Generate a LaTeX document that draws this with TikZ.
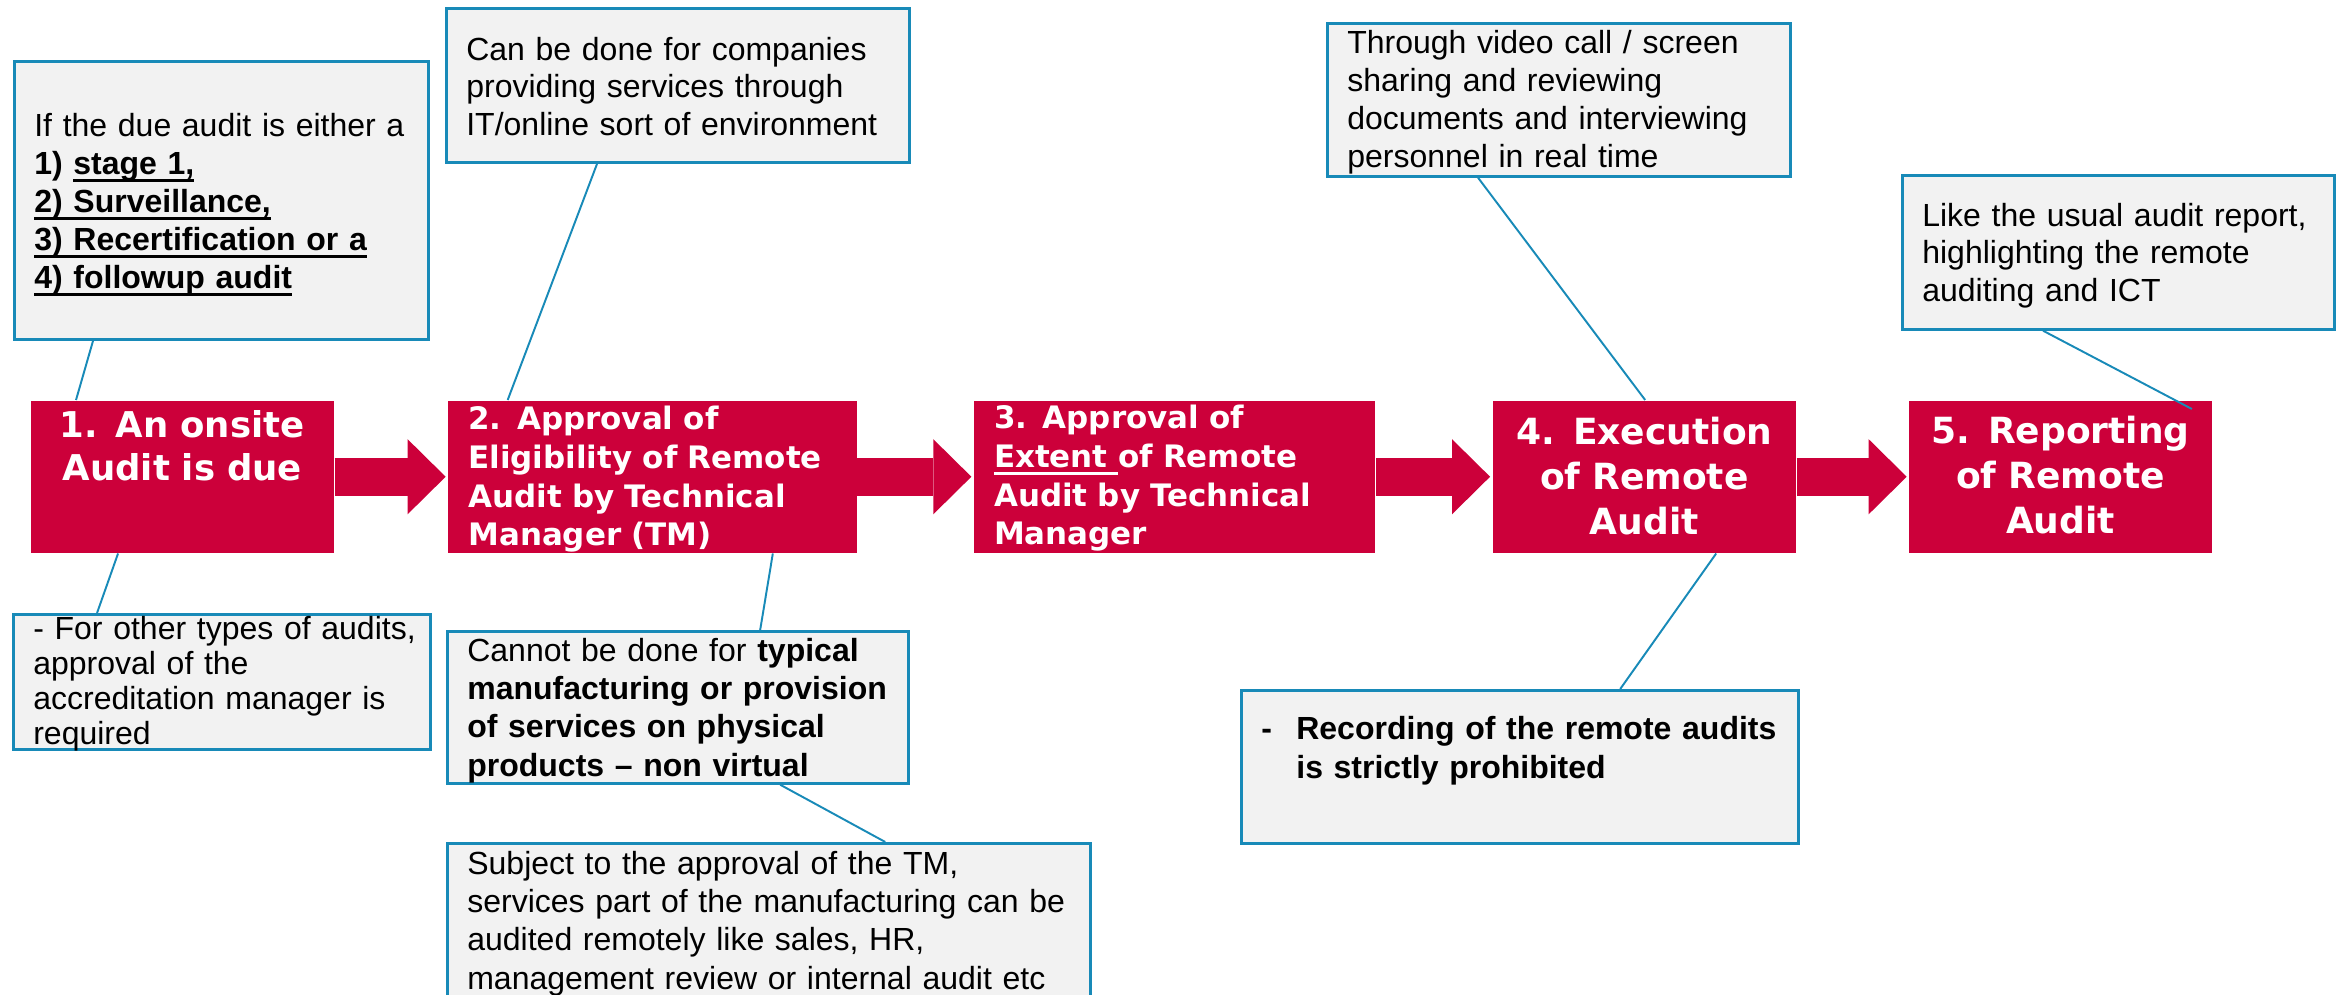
\documentclass[tikz,border=0pt]{standalone}
\usepackage{fontspec}
\setmainfont{Liberation Sans}
\newfontfamily\boxfont{DejaVu Sans}
\usetikzlibrary{positioning,arrows.meta}

\definecolor{stepred}{RGB}{204,0,58}
\definecolor{notegray}{RGB}{242,242,242}
\definecolor{noteblue}{RGB}{24,138,184}

\newcommand\notesize[1]{\fontsize{9.1pt}{#1}\selectfont}
\newcommand\stepfont[2]{\boxfont\bfseries\fontsize{#1}{#2}\selectfont}
\newsavebox\ulbox
\newcommand\uline[1]{\leavevmode\sbox\ulbox{#1}\rlap{\rule[-2.2pt]{\wd\ulbox}{0.8pt}}\usebox\ulbox}

\begin{document}
\begin{tikzpicture}[x=0.01cm, y=-0.01cm,
  stepbox/.style={fill=stepred, text=white, inner xsep=0.2cm, inner ysep=0pt, anchor=north west},
  note/.style={fill=notegray, draw=noteblue, line width=0.75pt, inner xsep=0.2cm, inner ysep=0pt, anchor=north west, align=left},
  link/.style={draw=noteblue, line width=0.55pt},
  flow/.style={draw=stepred, line width=0.38cm, -{Triangle[length=0.38cm, width=0.75cm, line width=0pt]}, shorten >=0.02cm}]
	\path[use as bounding box, fill=white] (0,0) rectangle (2341,995);
	
	% steps
	\node[stepbox, text width=2.63cm, align=center, text height=0.37cm, text depth=1.15cm, font=\stepfont{10.1pt}{12.2pt}] (s1) at (30,400) {1. An onsite\\Audit is due};
	\node[stepbox, right=1.13cm of s1, text width=3.68cm, align=left, text height=0.29cm, text depth=1.23cm, font=\stepfont{8.8pt}{11pt}] (s2) {2. Approval of\\Eligibility of Remote\\Audit by Technical\\Manager (TM)};
	\node[stepbox, right=1.16cm of s2, text width=3.61cm, align=left, text height=0.28cm, text depth=1.24cm, font=\stepfont{8.8pt}{11pt}] (s3) {3. Approval of\\\uline{Extent }of Remote\\Audit by Technical\\Manager};
	\node[stepbox, right=1.16cm of s3, text width=2.63cm, align=center, text height=0.44cm, text depth=1.08cm, font=\stepfont{10.25pt}{12.8pt}] (s4) {4. Execution\\of Remote\\Audit};
	\node[stepbox, right=1.12cm of s4, text width=2.62cm, align=center, text height=0.43cm, text depth=1.09cm, font=\stepfont{10.25pt}{12.8pt}] (s5) {5. Reporting\\of Remote\\Audit};
	
	\foreach \a/\b in {s1/s2, s2/s3, s3/s4, s4/s5}
		\draw[flow] (\a.east) -- (\b.west);
	
	% notes
	\node[note, text width=3.74cm, text height=0.75cm, text depth=2.03cm, font=\notesize{10.8pt}] (cA) at (13,60) {If the due audit is either a\\
		\textbf{1) \uline{stage 1,}}\\
		\textbf{\uline{2) Surveillance,}}\\
		\textbf{\uline{3) Recertification or a}}\\
		\textbf{\uline{4) followup audit}}};
	\node[note, text width=3.77cm, text height=0.25cm, text depth=1.10cm, font=\notesize{10pt}] (cB) at (12,613) {\mbox{- For other types of audits,}\\approval of the\\accreditation manager is\\required};
	\node[note, text width=4.23cm, text height=0.52cm, text depth=1.02cm, font=\notesize{10.7pt}] (cC) at (445,7) {Can be done for companies\\providing services through\\IT/online sort of environment};
	\node[note, text width=4.21cm, text height=0.30cm, text depth=1.22cm, font=\notesize{10.9pt}] (cG) at (446,630) {Cannot be done for \textbf{typical}\\\textbf{manufacturing or provision}\\\textbf{of services on physical}\\\textbf{products -- non virtual}};
	\node[note, text width=6.03cm, text height=0.31cm, text depth=1.27cm, font=\notesize{10.9pt}] (cH) at (446,842) {Subject to the approval of the TM,\\services part of the manufacturing can be\\audited remotely like sales, HR,\\management review or internal audit etc};
	\node[note, text width=4.23cm, text height=0.30cm, text depth=1.23cm, font=\notesize{10.8pt}] (cD) at (1326,22) {Through video call / screen\\sharing and reviewing\\documents and interviewing\\personnel in real time};
	\node[note, text width=5.17cm, text height=0.49cm, text depth=1.04cm, font=\notesize{11.1pt}] (cF) at (1240,689) {\makebox[0.35cm][l]{\textbf{-}}\textbf{Recording of the remote audits}\\\hspace*{0.35cm}\textbf{is strictly prohibited}};
	\node[note, text width=3.92cm, text height=0.51cm, text depth=1.03cm, font=\notesize{10.7pt}] (cE) at (1901,174) {Like the usual audit report,\\highlighting the remote\\auditing and ICT};
	
	\draw[link] ([xshift=0.80cm]cA.south west) -- ([xshift=0.46cm]s1.north west)
		([xshift=0.88cm]s1.south west) -- ([xshift=0.85cm]cB.north west)
		([xshift=1.52cm]cC.south west) -- ([xshift=0.60cm]s2.north west)
		([xshift=3.25cm]s2.south west) -- ([xshift=3.14cm]cG.north west)
		([xshift=3.34cm]cG.south west) -- ([xshift=4.39cm]cH.north west)
		([xshift=1.52cm]cD.south west) -- ([xshift=1.53cm]s4.north west)
		([xshift=2.24cm]s4.south west) -- ([xshift=3.80cm]cF.north west)
		([xshift=1.42cm]cE.south west) -- ([xshift=2.83cm, yshift=-0.09cm]s5.north west);
\end{tikzpicture}
\end{document}
